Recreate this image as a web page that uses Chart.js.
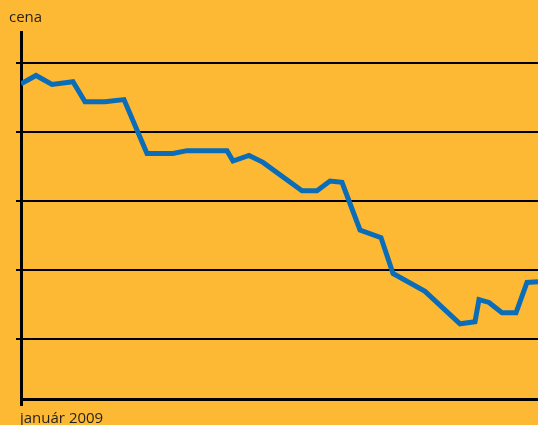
<!DOCTYPE html>
<html>
<head>
<meta charset="utf-8">
<script src="https://cdn.jsdelivr.net/npm/chart.js@4"></script>
<style>
	body { margin: 0; background: #fdb934; }
	canvas { display: block; }
</style>
</head>
<body>
<canvas id="chart" width="538" height="425"></canvas>
<script>
// time position along the axis (arbitrary units, start = január 2009)
const xVals = [0, 15, 31, 52, 64, 84, 103, 126, 152, 166, 206, 212, 228, 242, 281, 296, 309, 321, 339, 360, 372, 404, 439, 454, 458, 468, 481, 495, 506, 517];
// price
const prices = [47.0, 48.2, 46.9, 47.3, 44.4, 44.4, 44.7, 36.9, 36.9, 37.3, 37.3, 35.8, 36.6, 35.6, 31.5, 31.5, 32.9, 32.7, 25.8, 24.7, 19.5, 16.9, 12.2, 12.5, 15.7, 15.3, 13.8, 13.8, 18.2, 18.3];
const gridValues = [10, 20, 30, 40, 50];
const yLabel = 'cena';
const xLabel = 'január 2009';

const textFont = '15px "Open Sans"';
const textColor = '#231f20';

const labelsPlugin = {
	id: 'labels',
	afterDraw(chart) {
		const { ctx, chartArea } = chart;
		ctx.save();
		ctx.font = textFont;
		ctx.fillStyle = textColor;
		ctx.textAlign = 'left';
		ctx.textBaseline = 'middle';
		ctx.fillText(yLabel, chartArea.left - 12, chartArea.top - 14);
		ctx.fillText(xLabel, chartArea.left - 1, chartArea.bottom + 20);
		ctx.restore();
	}
};

new Chart(document.getElementById('chart'), {
	type: 'line',
	data: {
		datasets: [{
			data: xVals.map((x, i) => ({ x, y: prices[i] })),
			borderColor: '#0b6cb8',
			borderWidth: 5,
			pointRadius: 0,
			tension: 0,
			fill: false
		}]
	},
	options: {
		responsive: false,
		animation: false,
		layout: {
			padding: { left: 16, top: 32, right: 0, bottom: 19 }
		},
		plugins: {
			legend: { display: false },
			tooltip: { enabled: false }
		},
		scales: {
			x: {
				type: 'linear',
				min: 0,
				max: 517,
				afterBuildTicks: axis => { axis.ticks = [{ value: 0 }]; },
				ticks: { display: false },
				grid: {
					drawOnChartArea: false,
					drawTicks: true,
					tickLength: 7,
					lineWidth: 3,
					color: '#000'
				},
				border: { color: '#000', width: 3 }
			},
			y: {
				min: 1.3,
				max: 54.5,
				afterBuildTicks: axis => { axis.ticks = gridValues.map(v => ({ value: v })); },
				ticks: { display: false },
				grid: {
					color: '#000',
					lineWidth: 2,
					tickLength: 5
				},
				border: { color: '#000', width: 3 }
			}
		}
	},
	plugins: [labelsPlugin]
});
</script>
</body>
</html>
